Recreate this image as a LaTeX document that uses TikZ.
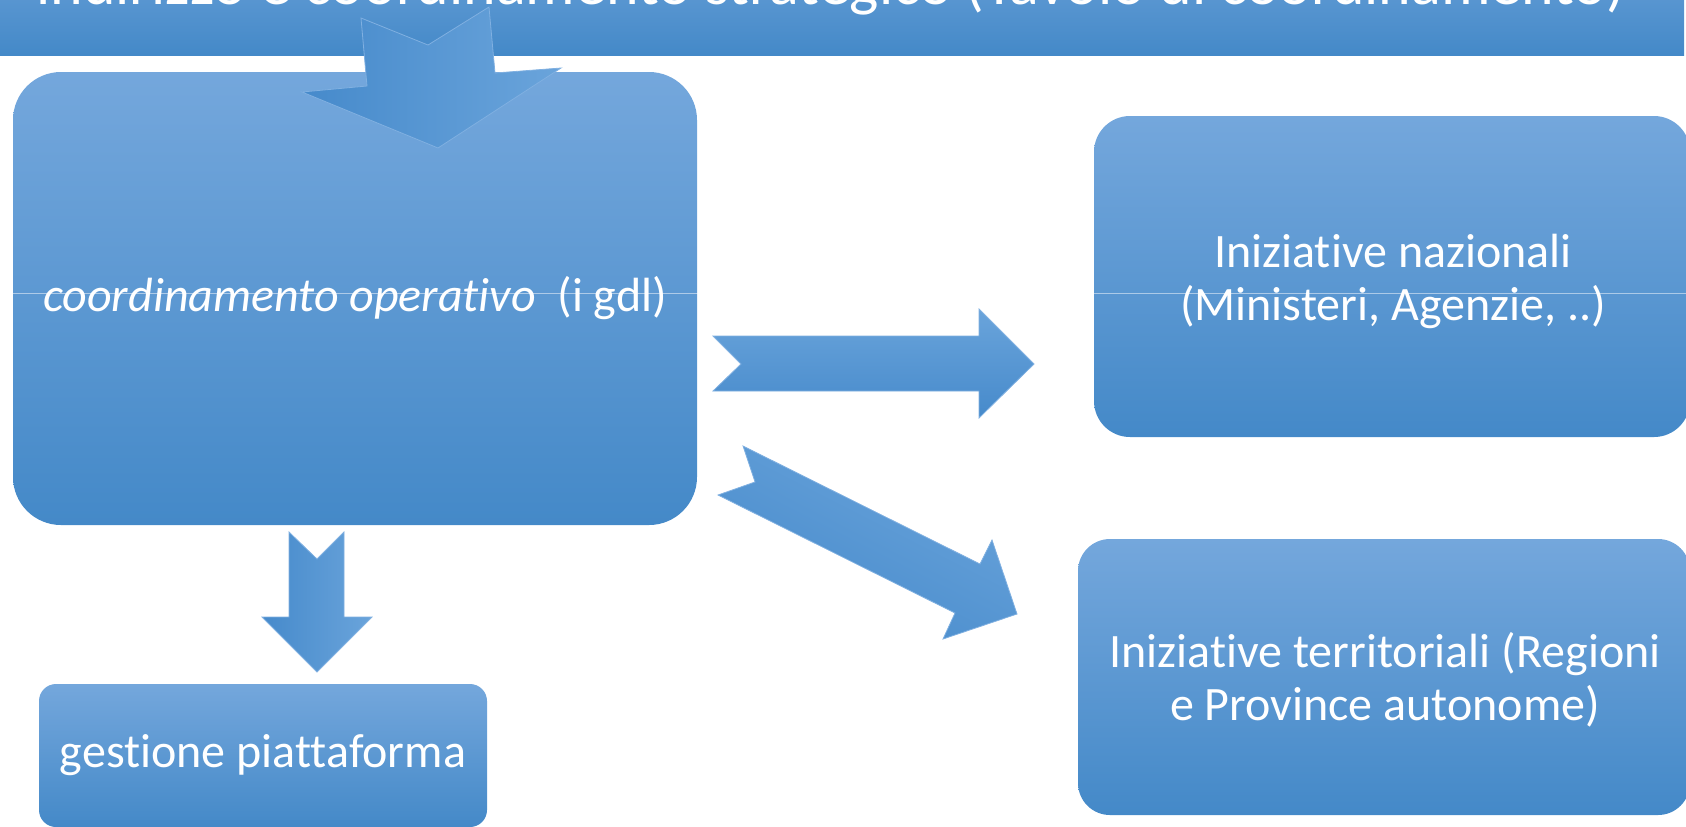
\documentclass[tikz,border=0pt]{standalone}
\usepackage{fontspec}
\setmainfont[Ligatures=NoCommon]{Carlito}
\usepackage{xcolor}
\usepackage{tikz}
\usetikzlibrary{shapes,arrows}
\definecolor{boxtop}{RGB}{116,167,220}
\definecolor{boxmid}{RGB}{92,157,219}
\definecolor{boxbot}{RGB}{68,137,200}
\definecolor{arrowdark}{RGB}{70,138,203}
\definecolor{arrowmid}{RGB}{86,155,221}
\definecolor{arrowlight}{RGB}{106,164,219}
\definecolor{arrowedge}{RGB}{128,176,225}
\tikzstyle{block} = [rectangle, top color=boxtop, middle color=boxmid, bottom color=boxbot, text=white, align=center, inner sep=0pt, font=\fontsize{24}{26.5}\selectfont]
\tikzstyle{blocktext} = [text=white, align=center, inner sep=0pt, font=\fontsize{24}{26.5}\selectfont]
\tikzstyle{banner} = [block, font=\fontsize{31}{34}\selectfont]
\tikzstyle{fatarrow} = [draw=arrowedge, line width=0.4pt, line join=miter]

\begin{document}
\begin{tikzpicture}[x=0.5pt, y=-0.5pt]
\useasboundingbox (0,0) rectangle (1686,826);
\clip (0,0) rectangle (1686,826);
% strip at the top, cut by the page edge
\node [banner, minimum width=853pt, minimum height=67.5pt] (tavolo) at (831,-12.5) {indirizzo e coordinamento strategico (Tavolo di coordinamento)};
\node [block, rounded corners=24pt, minimum width=342pt, minimum height=226.5pt] (operativo) at (355,298.5) {\itshape coordinamento operativo\upshape\ \ (i gdl)};
\node [block, rounded corners=8.5pt, minimum width=224pt, minimum height=71.5pt] (piattaforma) at (263,755.5) {gestione piattaforma};
\node [block, rounded corners=18pt, minimum width=298pt, minimum height=160.5pt] (nazionali) at (1392,276.5) {};
\node [blocktext] (nazionali-text) at (1393,281.5) {Iniziative nazionali\\(Ministeri, Agenzie, ..)};
\node [block, rounded corners=16pt, minimum width=306pt, minimum height=138pt] (territoriali) at (1384,677) {};
\node [blocktext] (territoriali-text) at (1385,680) {Iniziative territoriali (Regioni\\e Province autonome)};
\draw [white, opacity=0.5, line width=0.5pt] (operativo.west |- 0,293) -- (1686,293);
% block arrows
\path [fatarrow, left color=arrowdark, middle color=arrowmid, right color=arrowlight] (361,18) -- (428,45) -- (489,7) -- (495,73) -- (561,68) -- (438,148) -- (302,92) -- (367,86) -- cycle;
\path [fatarrow, left color=arrowdark, middle color=arrowmid, right color=arrowlight] (289,532) -- (317,559) -- (344,532) -- (344,617) -- (372,617) -- (317,672) -- (262,617) -- (289,617) -- cycle;
\path [fatarrow, top color=arrowlight, middle color=arrowmid, bottom color=arrowdark] (713,336) -- (979,336) -- (979,309) -- (1034,364) -- (979,418) -- (979,391) -- (713,391) -- (741,364) -- cycle;
\path [fatarrow, top color=arrowlight, middle color=arrowmid, bottom color=arrowdark, shading angle=-27] (743,446) -- (980,564) -- (992,540) -- (1017,614) -- (943,639) -- (955,613) -- (718,495) -- (755,482) -- cycle;
\end{tikzpicture}
\end{document}
